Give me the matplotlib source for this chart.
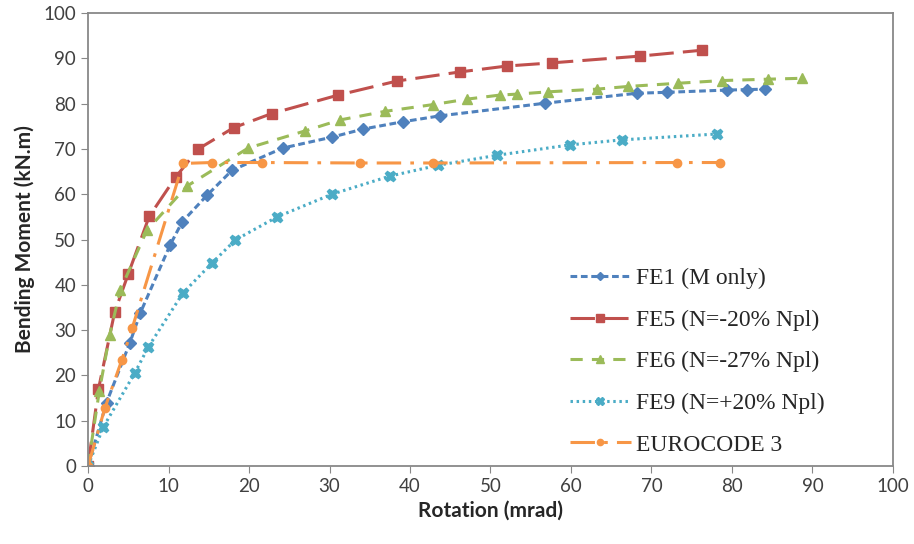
import matplotlib
matplotlib.use("Agg")
import matplotlib.pyplot as plt

# Data (Rotation mrad, Moment kN.m)
fe1_x = [0, 2.3, 5.2, 6.5, 10.2, 11.7, 14.8, 17.9, 24.2, 30.3, 34.2, 39.1, 43.7, 56.8, 68.2, 71.9, 79.4, 81.9, 84.1]
fe1_y = [0, 14, 27.2, 33.8, 48.8, 53.9, 59.8, 65.3, 70.2, 72.6, 74.4, 76.0, 77.3, 80.1, 82.3, 82.5, 83.0, 83.1, 83.2]

fe5_x = [0, 1.3, 3.3, 5.0, 7.6, 10.9, 13.7, 18.1, 22.8, 31.1, 38.4, 46.2, 52.0, 57.6, 68.6, 76.3]
fe5_y = [0, 17.0, 33.9, 42.4, 55.1, 63.8, 70.0, 74.7, 77.8, 81.9, 85.0, 87.0, 88.3, 89.0, 90.5, 91.8]

fe6_x = [0, 1.4, 2.7, 4.0, 7.3, 12.3, 19.9, 27.0, 31.3, 36.9, 42.9, 47.1, 51.2, 53.3, 57.1, 63.2, 67.1, 73.3, 78.8, 84.5, 88.7]
fe6_y = [0, 16.5, 29.0, 38.8, 52.0, 61.8, 70.2, 74.0, 76.4, 78.3, 79.8, 81.0, 81.9, 82.1, 82.6, 83.2, 83.8, 84.5, 85.1, 85.4, 85.6]

fe9_x = [0, 1.9, 5.8, 7.5, 11.8, 15.4, 18.3, 23.5, 30.3, 37.5, 43.5, 50.8, 59.9, 66.3, 78.1]
fe9_y = [0, 8.6, 20.5, 26.3, 38.2, 44.8, 49.9, 55.0, 60.0, 64.0, 66.4, 68.6, 70.9, 72.0, 73.3]

ec3_x = [0, 2.1, 4.2, 5.5, 11.8, 15.4, 21.6, 33.8, 42.9, 73.2, 78.5]
ec3_y = [0, 12.8, 23.4, 30.5, 66.8, 67.0, 67.0, 66.9, 66.9, 67.0, 67.0]

labels = ["FE1 (M only)", "FE5 (N=-20% Npl)", "FE6 (N=-27% Npl)", "FE9 (N=+20% Npl)", "EUROCODE 3"]
x_ticks = list(range(0, 101, 10))
y_ticks = list(range(0, 101, 10))

fig = plt.figure(figsize=(9.14, 5.44), dpi=100)
ax = fig.add_axes([0.0963, 0.1434, 0.8807, 0.8326])

lw = 2.2
ax.plot(fe1_x, fe1_y, color="#4F81BD", ls=(0, (2.2, 1.2)), lw=lw, marker="D", ms=6, label=labels[0])
ax.plot(fe5_x, fe5_y, color="#C0504D", ls=(0, (8, 3)), lw=lw, marker="s", ms=7.5, label=labels[1])
ax.plot(fe6_x, fe6_y, color="#9BBB59", ls=(0, (4, 3)), lw=lw, marker="^", ms=7.5, label=labels[2])
ax.plot(fe9_x, fe9_y, color="#4BACC6", ls=(0, (0.8, 1.2)), lw=lw, marker="X", ms=7.5, label=labels[3])
ax.plot(ec3_x, ec3_y, color="#F79646", ls=(0, (8, 3, 1.2, 3)), lw=lw, marker="o", ms=6, label=labels[4])

ax.set_xlim(0, 100)
ax.set_ylim(0, 100)
ax.set_xticks(x_ticks)
ax.set_yticks(y_ticks)
ax.tick_params(axis="both", direction="out", length=5, color="#888888", labelsize=13.5,
               labelcolor="#404040")
for lab in ax.get_xticklabels() + ax.get_yticklabels():
    lab.set_family("Lato")
for s in ax.spines.values():
    s.set_color("#888888")
    s.set_linewidth(1.3)

ax.set_xlabel("Rotation (mrad)", fontsize=15, fontweight="bold", family="Lato", color="#262626", labelpad=4)
ax.set_ylabel("Bending Moment (kN.m)", fontsize=15, fontweight="bold", family="Lato", color="#262626", labelpad=6)

leg = ax.legend(loc="upper left", bbox_to_anchor=(0.600, 0.547), bbox_transform=fig.transFigure,
                frameon=False, prop={"family": "Liberation Serif", "size": 17}, handlelength=2.6,
                labelspacing=0.85, handletextpad=0.2, markerscale=0.75)
for t in leg.get_texts():
    t.set_color("#262626")

fig.savefig("out.png", dpi=100)
